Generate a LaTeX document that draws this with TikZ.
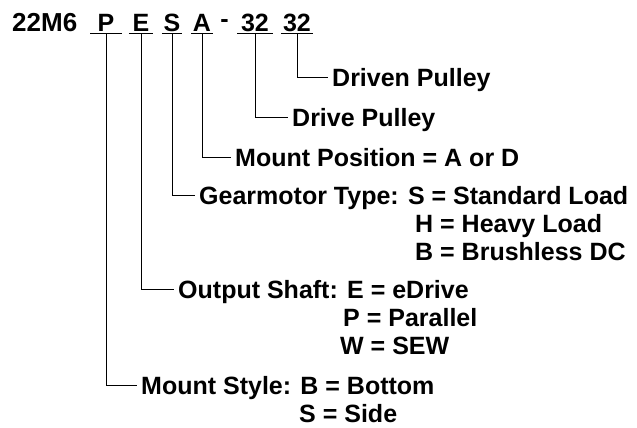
\documentclass[tikz,border=0pt]{standalone}
\usepackage{fontspec}
\setmainfont{Liberation Sans}
\usetikzlibrary{positioning}

\begin{document}
\begin{tikzpicture}[
  x=1pt, y=-1pt,
  node distance=10pt and 0pt,
  title/.style={inner sep=0pt, anchor=base west, font=\fontsize{26}{30}\selectfont\bfseries},
  code/.style={inner sep=0pt, anchor=base, text height=18pt, text depth=1.5pt, font=\fontsize{25}{30}\selectfont\bfseries},
  field/.style={inner xsep=4pt, inner ysep=0pt, text height=18pt, text depth=0pt, anchor=west, font=\fontsize{25}{30}\selectfont\bfseries},
  lead/.style={line width=0.9pt},
  under/.style={line width=1.1pt}
]
\useasboundingbox (0,0) rectangle (637,428);

% Model number
\node[title] (model) at (12,32) {22M6};
\node[code, minimum width=31pt] (pcode) at (106,32) {P};
\node[code, minimum width=24pt] (ecode) at (141,32) {E};
\node[code, minimum width=20pt] (scode) at (172,32) {S};
\node[code, minimum width=21pt] (acode) at (202,32) {A};
\node[title, anchor=base, font=\fontsize{25}{30}\selectfont\bfseries] (dash) at (224.5,28) {-};
\node[code, minimum width=35pt] (drivecode) at (255,32) {32};
\node[code, minimum width=32pt] (drivencode) at (297,32) {32};

\foreach \n in {pcode, ecode, scode, acode, drivecode, drivencode}
  \draw[under] (\n.south west) -- (\n.south east);

% Fields
\node[field] (driven) at (328,77) {Driven Pulley};
\node[field] (drive) at (288,117) {Drive Pulley};
\node[field] (position) at (231,157) {Mount Position = A or D};
\node[field] (gearmotor) at (195,195) {Gearmotor Type: S = Standard Load};
\node[field, below right=10pt and 216pt of gearmotor.south west] (gearH) {H = Heavy Load};
\node[field, below right=10pt and 0pt of gearH.south west] (gearB) {B = Brushless DC};
\node[field] (output) at (174,289) {Output Shaft: E = eDrive};
\node[field, below right=10pt and 165pt of output.south west] (outP) {P = Parallel};
\node[field, below right=10pt and -3pt of outP.south west] (outW) {W = SEW};
\node[field] (mountstyle) at (137,385) {Mount Style: B = Bottom};
\node[field, below right=10pt and 158pt of mountstyle.south west] (mountS) {S = Side};

% Leaders
\draw[lead] (drivencode.south) |- (driven.west);
\draw[lead] (drivecode.south) |- (drive.west);
\draw[lead] (acode.south) |- (position.west);
\draw[lead] (scode.south) |- (gearmotor.west);
\draw[lead] (ecode.south) |- (output.west);
\draw[lead] (pcode.south) |- (mountstyle.west);

\end{tikzpicture}
\end{document}
